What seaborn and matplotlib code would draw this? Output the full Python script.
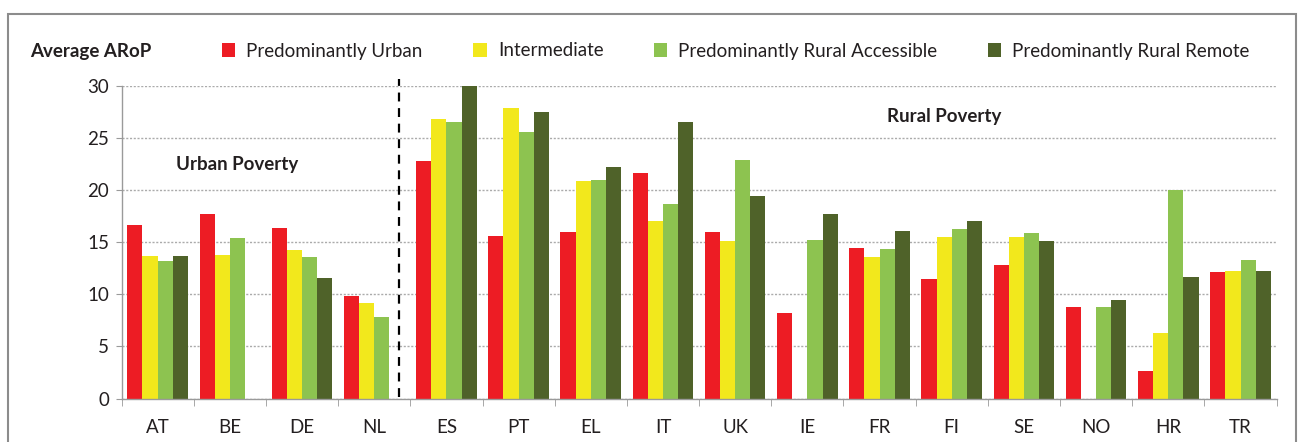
import seaborn as sns
import matplotlib.pyplot as plt
import numpy as np
import pandas as pd

countries = ['AT', 'BE', 'DE', 'NL', 'ES', 'PT', 'EL', 'IT', 'UK', 'IE',
             'FR', 'FI', 'SE', 'NO', 'HR', 'TR']
series = ['Predominantly Urban', 'Intermediate',
          'Predominantly Rural Accessible', 'Predominantly Rural Remote']

# average at-risk-of-poverty rate, NaN = no region of that type
urban = [16.6, 17.7, 16.4, 9.8, 22.8, 15.6, 16.0, 21.6, 16.0, 8.2,
         14.4, 11.5, 12.8, 8.8, 2.6, 12.1]
intermediate = [13.7, 13.8, 14.2, 9.2, 26.8, 27.9, 20.9, 17.0, 15.1, np.nan,
                13.6, 15.5, 15.5, np.nan, 6.3, 12.2]
rural_acc = [13.2, 15.4, 13.6, 7.8, 26.5, 25.6, 21.0, 18.7, 22.9, 15.2,
             14.3, 16.3, 15.9, 8.8, 20.0, 13.3]
rural_rem = [13.7, np.nan, 11.6, np.nan, 30.0, 27.5, 22.2, 26.5, 19.4, 17.7,
             16.1, 17.0, 15.1, 9.4, 11.7, 12.2]

colors = ['#ED1C24', '#F2E81C', '#8DC350', '#4F6229']

rows = []
for name, vals in zip(series, [urban, intermediate, rural_acc, rural_rem]):
    for c, v in zip(countries, vals):
        rows.append({'country': c, 'type': name, 'arop': v})
df = pd.DataFrame(rows)

plt.rcParams['font.family'] = ['Lato', 'DejaVu Sans']

fig = plt.figure(figsize=(13, 4.42), dpi=100)
ax = fig.add_axes([0.0935, 0.0984, 0.8885, 0.7077])

sns.barplot(data=df, x='country', y='arop', hue='type', order=countries,
            hue_order=series, palette=colors, width=0.84, errorbar=None,
            saturation=1, ax=ax)

ax.set_ylim(0, 30)
ax.set_xlim(-0.5, len(countries) - 0.5)
ax.set_yticks(range(0, 31, 5))
ax.set_xlabel('')
ax.set_ylabel('')
ax.yaxis.grid(True, linestyle=(0, (1.5, 1.2)), color='#ababab', linewidth=1)
ax.set_axisbelow(True)
for s in ['top', 'right']:
    ax.spines[s].set_visible(False)
for s in ['left', 'bottom']:
    ax.spines[s].set_color('#9a9a9a')
    ax.spines[s].set_linewidth(1)

ax.tick_params(axis='y', length=4, color='#9a9a9a', labelsize=13.5,
               labelcolor='#231f20', pad=5)
ax.tick_params(axis='x', which='major', length=0, labelsize=13.5,
               labelcolor='#231f20', pad=15)
ax.set_xticks(np.arange(-0.5, len(countries), 1), minor=True)
ax.tick_params(axis='x', which='minor', length=5, color='#9a9a9a')

# divider between urban and rural groups
ax.plot([3.35, 3.35], [0.1, 30.6], color='black', linestyle=(0, (4, 3)),
        linewidth=1.6, clip_on=False)
ax.text(1.1, 22.4, 'Urban Poverty', fontsize=13.5, fontweight='bold',
        ha='center', va='center', color='#231f20')
ax.text(10.9, 27.0, 'Rural Poverty', fontsize=13.5, fontweight='bold',
        ha='center', va='center', color='#231f20')

sns.move_legend(ax, 'center left', bbox_to_anchor=(222 / 1300, 1 - 51 / 442),
                bbox_transform=fig.transFigure, ncol=4, frameon=False,
                title=None, fontsize=13.5, handlelength=0.7, handleheight=0.7,
                handletextpad=0.6, columnspacing=2.7, borderpad=0,
                borderaxespad=0)
for t in ax.get_legend().get_texts():
    t.set_color('#231f20')

fig.text(30 / 1300, 1 - 51 / 442, 'Average ARoP', fontsize=13.5,
         fontweight='bold', va='center', ha='left', color='#231f20')

# outer frame of the original figure
frame = plt.Rectangle((8 / 1300, -0.1), (1296 - 8) / 1300, 1.1 - 14 / 442,
                      transform=fig.transFigure, fill=False,
                      edgecolor='#8c8c8c', linewidth=1.5)
fig.patches.append(frame)

fig.savefig('out.png', dpi=100)
